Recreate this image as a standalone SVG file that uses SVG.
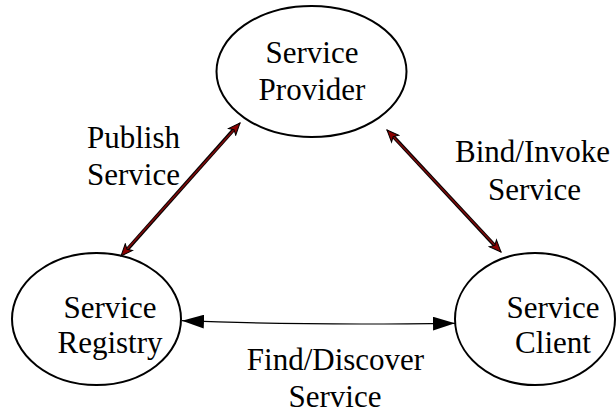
<svg xmlns="http://www.w3.org/2000/svg" width="616" height="414" viewBox="0 0 616 414">
<style>
.node{fill:#fff;stroke:#000;stroke-width:2}
.t{font-family:"Liberation Serif","Times New Roman",serif;font-size:31px;fill:#000;text-anchor:middle}
.ro{fill:none;stroke:#000;stroke-width:3.6}
.ri{fill:none;stroke:#7a0a0a;stroke-width:1.8}
.bl{fill:none;stroke:#000;stroke-width:1.2}
</style>
<defs>
<marker id="ra" markerUnits="userSpaceOnUse" viewBox="0 0 14 12" markerWidth="14" markerHeight="12" refX="13" refY="6" orient="auto-start-reverse">
<path d="M1,1 L13,6 L1,11 L4,6 z" fill="#8b0000" stroke="#000" stroke-width="1"/>
</marker>
<marker id="ba" markerUnits="userSpaceOnUse" viewBox="0 0 22 14" markerWidth="22" markerHeight="14" refX="22" refY="7" orient="auto-start-reverse">
<path d="M0,0 L22,7 L0,14 z" fill="#000"/>
</marker>
</defs>
<g id="provider">
<ellipse class="node" cx="311.5" cy="71.5" rx="95" ry="65.5"/>
<text class="t" x="312" y="63">Service</text>
<text class="t" x="312" y="100">Provider</text>
</g>
<g id="registry">
<ellipse class="node" cx="96.5" cy="319" rx="84.5" ry="66"/>
<text class="t" x="110" y="318">Service</text>
<text class="t" x="110" y="353">Registry</text>
</g>
<g id="client">
<ellipse class="node" cx="535" cy="319" rx="80" ry="66"/>
<text class="t" x="553" y="318">Service</text>
<text class="t" x="553" y="353">Client</text>
</g>
<g id="connectors">
<path class="ro" d="M125,252 L236,127"/>
<path class="ri" d="M121,256 L240,123" marker-start="url(#ra)" marker-end="url(#ra)"/>
<path class="ro" d="M391,134 L497,248"/>
<path class="ri" d="M387,130 L501,252" marker-start="url(#ra)" marker-end="url(#ra)"/>
<path class="bl" d="M182,320.7 Q300,325.5 455,323.3" marker-start="url(#ba)" marker-end="url(#ba)"/>
</g>
<g id="labels">
<text class="t" x="133.5" y="148">Publish</text>
<text class="t" x="133.5" y="185">Service</text>
<text class="t" x="532.5" y="162">Bind/Invoke</text>
<text class="t" x="534.5" y="200">Service</text>
<text class="t" x="335.5" y="370">Find/Discover</text>
<text class="t" x="335" y="407">Service</text>
</g>
</svg>
